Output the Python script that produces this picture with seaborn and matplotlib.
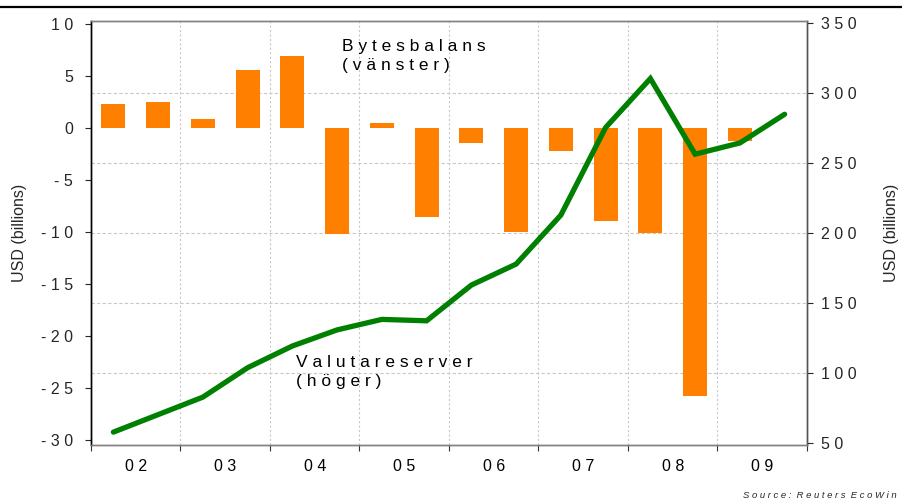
import numpy as np
import pandas as pd
import matplotlib
matplotlib.use("Agg")
import matplotlib.pyplot as plt
import seaborn as sns

# ---- data ----
halfyears = ["02H1", "02H2", "03H1", "03H2", "04H1", "04H2", "05H1", "05H2",
             "06H1", "06H2", "07H1", "07H2", "08H1", "08H2", "09H1", "09H2"]
bytesbalans = [2.3, 2.5, 0.85, 5.6, 7.0, -10.2, 0.55, -8.5,
               -1.45, -10.0, -2.2, -8.9, -10.1, -25.7, -1.2]
valutareserver = [58, 70.5, 83, 104, 119.5, 131, 138.5, 137.5,
                  163, 178, 213, 275.5, 310.5, 256.5, 264.5, 285]
year_labels = ["0 2", "0 3", "0 4", "0 5", "0 6", "0 7", "0 8", "0 9"]
left_ticks = [10, 5, 0, -5, -10, -15, -20, -25, -30]
left_tick_labels = ["1 0", "5", "0", "- 5", "- 1 0", "- 1 5", "- 2 0", "- 2 5", "- 3 0"]
right_ticks = [350, 300, 250, 200, 150, 100, 50]
right_tick_labels = ["3 5 0", "3 0 0", "2 5 0", "2 0 0", "1 5 0", "1 0 0", "5 0"]

sns.set_theme(style="white")
plt.rcParams["font.family"] = ["Liberation Sans", "DejaVu Sans"]

ORANGE = "#FF8000"
GREEN = "#008000"
GRID = "#c8c8c8"
FS = 11.5

fig = plt.figure(figsize=(9.03, 5.03), dpi=100)
ax = fig.add_axes([91 / 903, 1 - 445 / 503, 716 / 903, 424 / 503])

bars_df = pd.DataFrame({"pos": np.arange(len(bytesbalans)), "val": bytesbalans})
sns.barplot(data=bars_df, x="pos", y="val", color=ORANGE, saturation=1,
            width=0.54, ax=ax, native_scale=True, zorder=2)
for p in ax.patches:
    p.set_edgecolor("none")

ax.set_xlim(-0.5, len(halfyears) - 0.5)
ax.set_ylim(-30.45, 10.32)

ax2 = ax.twinx()
line_df = pd.DataFrame({"pos": np.arange(len(valutareserver)), "val": valutareserver})
sns.lineplot(data=line_df, x="pos", y="val", color=GREEN, linewidth=3.8,
             ax=ax2, solid_capstyle="round", solid_joinstyle="miter")
ax2.set_ylim(48.8, 351.6)
ax2.set_xlim(-0.5, len(halfyears) - 0.5)

# grid: horizontal at right-axis ticks (drawn on the left axis, behind bars)
lo1, hi1 = ax.get_ylim()
lo2, hi2 = ax2.get_ylim()
for r in right_ticks[1:-1]:
    yv = lo1 + (r - lo2) * (hi1 - lo1) / (hi2 - lo2)
    ax.axhline(yv, color=GRID, lw=0.8, ls=(0, (3, 2)), zorder=0)
# vertical grid at year boundaries
bounds = np.arange(-0.5, len(halfyears) - 0.5 + 0.01, 2)
for b in bounds[1:-1]:
    ax.axvline(b, color=GRID, lw=0.8, ls=(0, (2, 2)), zorder=0)

# x ticks
ax.set_xticks(bounds)
ax.set_xticklabels([""] * len(bounds))
ax.set_xticks(np.arange(0.5, len(halfyears), 2), minor=True)
ax.set_xticklabels(year_labels, minor=True, fontsize=FS)
ax.tick_params(axis="x", which="major", direction="out", length=4, width=0.8,
               colors="#333333", bottom=True)
ax.tick_params(axis="x", which="minor", length=0, pad=10, labelcolor="black")
ax.set_xlabel("")

# y ticks
ax.set_yticks(left_ticks)
ax.set_yticklabels(left_tick_labels, fontsize=FS)
ax.tick_params(axis="y", direction="out", length=4, width=0.8, left=True, pad=9)
ax.set_ylabel("USD (billions)", fontsize=11.5, labelpad=10)

ax2.set_yticks(right_ticks)
ax2.set_yticklabels(right_tick_labels, fontsize=FS)
ax2.tick_params(axis="y", direction="out", length=4, width=0.8, right=True, pad=6)
ax2.set_ylabel("USD (billions)", fontsize=11.5, labelpad=20, rotation=90)
ax2.set_xlabel("")

for a in (ax, ax2):
    a.spines["top"].set_color("#808080")
    a.spines["bottom"].set_color("#808080")
    a.spines["right"].set_color("#555555")
    a.spines["left"].set_color("black")
    for s in a.spines.values():
        s.set_linewidth(1.0)
ax.grid(False)
ax2.grid(False)

# annotations
ax.text(5.11, 6.95, "B y t e s b a l a n s\n( v ä n s t e r )", fontsize=12.5,
        va="center", ha="left", linespacing=1.3, color="black")
ax.text(4.08, -23.43, "V a l u t a r e s e r v e r\n( h ö g e r )", fontsize=12.5,
        va="center", ha="left", linespacing=1.3, color="black")

# top rule and source
fig.add_artist(plt.Line2D([0, 1], [1 - 7 / 503, 1 - 7 / 503], color="black",
                          lw=1.6, transform=fig.transFigure))
fig.text(897 / 903, 1 - 495 / 503, "S o u r c e :  R e u t e r s  E c o W i n",
         fontsize=6.8, style="italic", ha="right", va="center")

fig.savefig("out.png", dpi=100)
